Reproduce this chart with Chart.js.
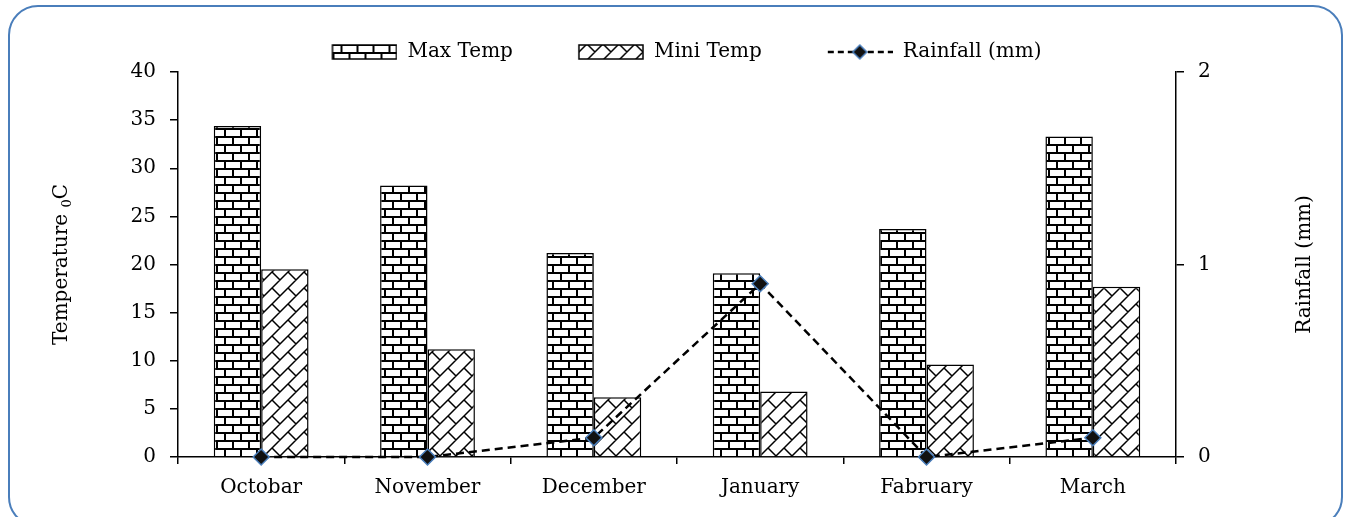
<!DOCTYPE html>
<html lang="en">
<head>
  <meta charset="UTF-8">
  <title>Temperature and Rainfall</title>
  <script src="https://cdn.jsdelivr.net/npm/chart.js"></script>
  <style>
    body { margin: 0; background: #fff; }
    #wrap { position: relative; width: 1346px; height: 517px; overflow: hidden; }
    #frame {
      position: absolute; left: 8px; top: 5px; width: 1335px; height: 522px;
      border: 2px solid #4a7ebb; border-radius: 30px; box-sizing: border-box;
      pointer-events: none;
    }
  </style>
</head>
<body>
  <div id="wrap">
    <canvas id="chart" width="1346" height="517"></canvas>
    <div id="frame"></div>
  </div>

  <script>
    const months = ['Octobar', 'November', 'December', 'January', 'Fabruary', 'March'];
    const maxTemp = [34.4, 28.2, 21.2, 19.1, 23.7, 33.3];
    const miniTemp = [19.5, 11.2, 6.2, 6.8, 9.6, 17.7];
    const rainfall = [0, 0, 0.1, 0.9, 0, 0.1];
    const tempTicks = { min: 0, max: 40, step: 5 };
    const rainTicks = { min: 0, max: 2, step: 1 };

    const FONT = "'DejaVu Serif'";
    Chart.defaults.font.family = FONT;
    Chart.defaults.font.size = 20;
    Chart.defaults.color = '#000';

    // brick fill for Max Temp
    function brickPattern() {
      const c = document.createElement('canvas');
      c.width = 16; c.height = 16;
      const g = c.getContext('2d');
      g.fillStyle = '#fff'; g.fillRect(0, 0, 16, 16);
      g.fillStyle = '#000';
      g.fillRect(0, 0, 16, 2);
      g.fillRect(0, 8, 16, 2);
      g.fillRect(0, 0, 2, 8);
      g.fillRect(8, 8, 2, 8);
      return g.createPattern(c, 'repeat');
    }

    // diagonal brick fill for Mini Temp
    function diagPattern() {
      const T = 16;
      const c = document.createElement('canvas');
      c.width = T; c.height = T;
      const g = c.getContext('2d');
      g.fillStyle = '#fff'; g.fillRect(0, 0, T, T);
      g.strokeStyle = '#000'; g.lineWidth = 1.5;
      g.beginPath();
      for (let k = -3; k <= 3; k++) {
        g.moveTo(k * T + 2 * T, -2 * T);
        g.lineTo(k * T - 2 * T, 2 * T);
        for (let m = -3; m <= 3; m++) {
          const v = k * T + 2 * T * m;
          const u0 = k * T, u1 = (k + 1) * T;
          g.moveTo((u0 + v) / 2, (u0 - v) / 2);
          g.lineTo((u1 + v) / 2, (u1 - v) / 2);
        }
      }
      g.stroke();
      return g.createPattern(c, 'repeat');
    }

    const brick = brickPattern();
    const diag = diagPattern();

    const GAP = 55;   // transparent room in front of each legend icon
    const ICON_W = 66;

    function boxIcon(fill) {
      const h = 14;
      const c = document.createElement('canvas');
      c.width = GAP + ICON_W; c.height = h + 2;
      const g = c.getContext('2d');
      g.fillStyle = fill;
      g.fillRect(GAP + 1, 1, ICON_W - 2, h);
      g.strokeStyle = '#000'; g.lineWidth = 1.5;
      g.strokeRect(GAP + 1, 1, ICON_W - 2, h);
      return c;
    }

    function lineIcon() {
      const h = 20;
      const c = document.createElement('canvas');
      c.width = GAP + ICON_W; c.height = h;
      const g = c.getContext('2d');
      g.strokeStyle = '#000'; g.lineWidth = 2.5;
      g.setLineDash([6, 4]);
      g.beginPath(); g.moveTo(GAP + 1, h / 2); g.lineTo(GAP + ICON_W, h / 2); g.stroke();
      g.setLineDash([]);
      const cx = GAP + ICON_W / 2, cy = h / 2, r = 7;
      g.beginPath();
      g.moveTo(cx, cy - r); g.lineTo(cx + r, cy); g.lineTo(cx, cy + r); g.lineTo(cx - r, cy); g.closePath();
      g.fillStyle = '#111'; g.fill();
      g.strokeStyle = '#4a7ebb'; g.lineWidth = 1.5; g.stroke();
      return c;
    }

    const icons = [boxIcon(brick), boxIcon(diag), lineIcon()];

    // axis titles (right one reads bottom to top, like the left one)
    const axisTitles = {
      id: 'axisTitles',
      afterDraw(chart) {
        const ctx = chart.ctx;
        const mid = (chart.chartArea.top + chart.chartArea.bottom) / 2;
        ctx.save();
        ctx.fillStyle = '#000';
        ctx.textBaseline = 'middle';

        ctx.save();
        ctx.translate(62, mid);
        ctx.rotate(-Math.PI / 2);
        const a = 'Temperature ', c = 'C';
        ctx.font = '20px ' + FONT;
        const wa = ctx.measureText(a).width, wc = ctx.measureText(c).width;
        ctx.font = '13px ' + FONT;
        const ws = ctx.measureText('0').width;
        let x = -(wa + ws + wc) / 2;
        ctx.textAlign = 'left';
        ctx.font = '20px ' + FONT;
        ctx.fillText(a, x, 0); x += wa;
        ctx.font = '13px ' + FONT;
        ctx.fillText('0', x, 6); x += ws;
        ctx.font = '20px ' + FONT;
        ctx.fillText(c, x, 0);
        ctx.restore();

        ctx.save();
        ctx.translate(chart.scales.y1.left + 129, mid);
        ctx.rotate(-Math.PI / 2);
        ctx.font = '20px ' + FONT;
        ctx.textAlign = 'center';
        ctx.fillText('Rainfall (mm)', 0, 0);
        ctx.restore();

        ctx.restore();
      }
    };

    const axisLine = { color: '#000', width: 1.5 };
    const tickMarks = { drawOnChartArea: false, color: '#000', lineWidth: 1.5, tickLength: 8 };

    new Chart(document.getElementById('chart'), {
      data: {
        labels: months,
        datasets: [
          {
            type: 'line',
            label: 'Rainfall (mm)',
            data: rainfall,
            yAxisID: 'y1',
            borderColor: '#000',
            borderWidth: 2.5,
            borderDash: [8, 5],
            pointStyle: 'rectRot',
            pointRadius: 8,
            pointBackgroundColor: '#111',
            pointBorderColor: '#4a7ebb',
            pointBorderWidth: 1.5,
            tension: 0,
            clip: false,
            order: 0
          },
          {
            type: 'bar',
            label: 'Max Temp',
            data: maxTemp,
            yAxisID: 'y',
            backgroundColor: brick,
            borderColor: '#000',
            borderWidth: 1.5,
            categoryPercentage: 0.57,
            barPercentage: 1.0,
            order: 1
          },
          {
            type: 'bar',
            label: 'Mini Temp',
            data: miniTemp,
            yAxisID: 'y',
            backgroundColor: diag,
            borderColor: '#000',
            borderWidth: 1.5,
            categoryPercentage: 0.57,
            barPercentage: 1.0,
            order: 1
          }
        ]
      },
      options: {
        responsive: false,
        animation: false,
        layout: { padding: { top: 32, left: 0, right: 28, bottom: 0 } },
        plugins: {
          tooltip: { enabled: false },
          legend: {
            position: 'top',
            labels: {
              usePointStyle: true,
              pointStyleWidth: GAP + ICON_W,
              padding: 10,
              font: { size: 20 },
              generateLabels(chart) {
                const names = ['Max Temp', 'Mini Temp', 'Rainfall (mm)'];
                return names.map((text, i) => ({
                  text: text,
                  pointStyle: icons[i],
                  fontColor: '#000',
                  lineWidth: 0,
                  datasetIndex: i === 2 ? 0 : i + 1
                }));
              }
            }
          }
        },
        scales: {
          x: {
            offset: true,
            grid: { drawOnChartArea: false, color: '#000', lineWidth: 1.5, tickLength: 7, offset: true },
            border: axisLine,
            ticks: { padding: 12 },
            afterFit(s) { s.height = 60; }
          },
          y: {
            position: 'left',
            min: tempTicks.min,
            max: tempTicks.max,
            ticks: { stepSize: tempTicks.step, padding: 14 },
            grid: tickMarks,
            border: axisLine,
            afterFit(s) { s.width = 178; }
          },
          y1: {
            position: 'right',
            min: rainTicks.min,
            max: rainTicks.max,
            ticks: { stepSize: rainTicks.step, padding: 14 },
            grid: tickMarks,
            border: axisLine,
            afterFit(s) { s.width = 142; }
          }
        }
      },
      plugins: [axisTitles]
    });
  </script>
</body>
</html>
